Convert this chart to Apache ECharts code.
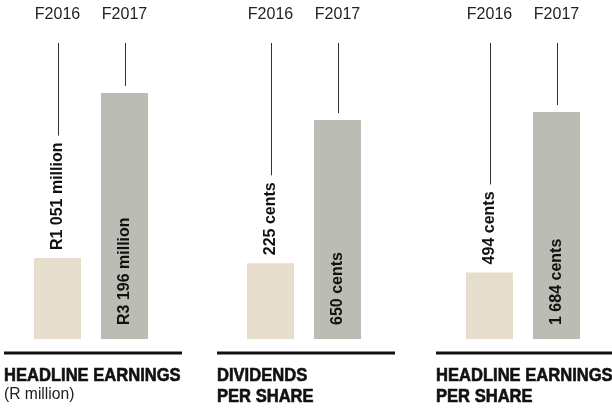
<!DOCTYPE html>
<html lang="en">
<head>
  <meta charset="UTF-8" />
  <title>Headline earnings</title>
  <script src="https://cdn.jsdelivr.net/npm/echarts@6.0.0/dist/echarts.min.js"></script>
  <style>
    html, body { margin: 0; padding: 0; background: #fff; }
  </style>
</head>
<body>
  <div id="main" style="width:612px; height:411px;"></div>
  <script type="text/javascript">
    // data
    const years = ['F2016', 'F2017'];
    const headlineEarnings = [1051, 3196];   // R million
    const dividendsPerShare = [225, 650];    // cents
    const hepsValues = [494, 1684];          // cents
    const earningsLabels = ['R1 051 million', 'R3 196 million'];
    const dividendLabels = ['225 cents', '650 cents'];
    const hepsLabels = ['494 cents', '1 684 cents'];
    const panelTitles = ['HEADLINE EARNINGS', 'DIVIDENDS\nPER SHARE', 'HEADLINE EARNINGS\nPER SHARE'];
    const panelSubtitles = ['(R million)', '', ''];

    // look
    const barColors = ['#e6ddcc', '#bbbdb4'];
    const textFont = '"Liberation Sans", Arial, sans-serif';
    const valueFontSize = 16;
    const labelGap = 8;      // bar top -> outside label
    const lineGap = 7;       // label / bar -> leader line end

    const panels = [
      { values: headlineEarnings, labels: earningsLabels, left: 24, max: 3846, ruleX: [4, 182] },
      { values: dividendsPerShare, labels: dividendLabels, left: 237, max: 879, ruleX: [217, 395] },
      { values: hepsValues, labels: hepsLabels, left: 456, max: 2196, ruleX: [436, 612] }
    ];

    // text measuring for the leader lines
    const ctx = document.createElement('canvas').getContext('2d');
    ctx.font = 'bold ' + valueFontSize + 'px ' + textFont;
    function textWidth(s) { return ctx.measureText(s).width; }

    const gridTop = 43, gridBottom = 72, gridWidth = 134;

    const grid = [], xAxis = [], yAxis = [], series = [], graphic = [];

    panels.forEach(function (p, i) {
      grid.push({ left: p.left, top: gridTop, width: gridWidth, bottom: gridBottom });
      xAxis.push({
        type: 'category', gridIndex: i, data: years, position: 'top',
        axisLine: { show: false }, axisTick: { show: false },
        axisLabel: { color: '#222', fontSize: 16, fontFamily: textFont, margin: 20 }
      });
      yAxis.push({ type: 'value', gridIndex: i, min: 0, max: p.max, show: false, splitLine: { show: false } });

      series.push({
        type: 'bar', xAxisIndex: i, yAxisIndex: i, barWidth: 47, silent: true,
        data: p.values.map(function (v, j) {
          const outside = j === 0;
          return {
            value: v,
            itemStyle: { color: barColors[j] },
            label: {
              show: true,
              formatter: p.labels[j],
              rotate: 90,
              align: 'left',
              verticalAlign: 'middle',
              position: outside ? 'top' : 'insideBottom',
              distance: outside ? labelGap : 14,
              color: '#111',
              fontWeight: 'bold',
              fontSize: valueFontSize,
              fontFamily: textFont
            }
          };
        })
      });

      // leader lines from year label down to value label / bar
      series.push({
        type: 'custom', xAxisIndex: i, yAxisIndex: i, silent: true,
        data: p.values.map(function (v, j) { return [j, v]; }),
        renderItem: function (params, api) {
          const j = params.dataIndex;
          const pt = api.coord([api.value(0), api.value(1)]);
          let end = pt[1] - lineGap;
          if (j === 0) end = pt[1] - labelGap - textWidth(p.labels[j]) - lineGap;
          return {
            type: 'line',
            shape: { x1: Math.round(pt[0]) + 0.5, y1: params.coordSys.y, x2: Math.round(pt[0]) + 0.5, y2: end },
            style: { stroke: '#333', lineWidth: 1 }
          };
        }
      });

      // rule under each panel
      graphic.push({
        type: 'line', silent: true,
        shape: { x1: p.ruleX[0], y1: 353, x2: p.ruleX[1], y2: 353 },
        style: { stroke: '#111', lineWidth: 3 }
      });
      // panel title, squeezed to a condensed look
      graphic.push({
        type: 'text', silent: true,
        x: p.ruleX[0], y: 366, scaleX: 0.92,
        style: {
          text: panelTitles[i],
          font: 'bold 18px ' + textFont,
          lineHeight: 21,
          fill: '#111',
          stroke: '#111',
          lineWidth: 0.6,
          textVerticalAlign: 'top'
        }
      });
      if (panelSubtitles[i]) {
        graphic.push({
          type: 'text', silent: true,
          x: p.ruleX[0], y: 386, scaleX: 0.92,
          style: {
            text: panelSubtitles[i],
            font: '17px ' + textFont,
            fill: '#222',
            textVerticalAlign: 'top'
          }
        });
      }
    });

    const chart = echarts.init(document.getElementById('main'));
    chart.setOption({
      animation: false,
      grid: grid,
      xAxis: xAxis,
      yAxis: yAxis,
      series: series,
      graphic: graphic
    });
  </script>
</body>
</html>
